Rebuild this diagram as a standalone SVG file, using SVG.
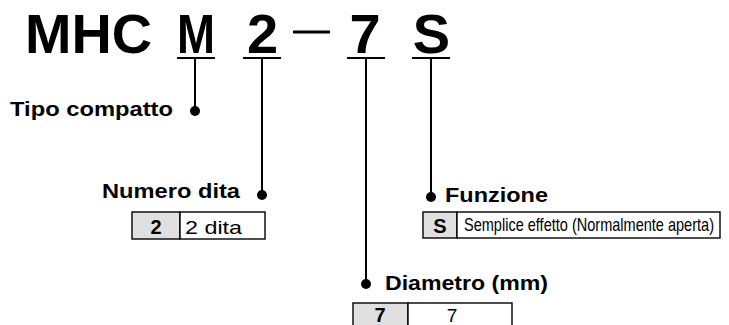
<svg xmlns="http://www.w3.org/2000/svg" width="729" height="325" viewBox="0 0 729 325">
<style>
.t{font-family:"Liberation Sans",Arial,sans-serif;font-weight:bold;font-size:56px;fill:#000;text-anchor:middle}
.lbl{font-family:"Liberation Sans",Arial,sans-serif;font-weight:bold;font-size:21px;fill:#000}
.ln{stroke:#000;stroke-width:2;fill:none}
.cell{stroke:#000;stroke-width:1.4;fill:#fff}
.key{stroke:#000;stroke-width:1.4;fill:#e0e0e0}
.kt{font-family:"Liberation Sans",Arial,sans-serif;font-weight:bold;font-size:20px;fill:#000;text-anchor:middle}
.vt{font-family:"Liberation Sans",Arial,sans-serif;font-size:19px;fill:#000}
</style>
<g id="title">
<text class="t" x="88.5" y="53" textLength="127" lengthAdjust="spacingAndGlyphs">MHC</text>
<text class="t" x="196" y="53" textLength="38" lengthAdjust="spacingAndGlyphs">M</text>
<text class="t" x="262.5" y="53">2</text>
<line x1="293" y1="32" x2="330" y2="32" stroke="#000" stroke-width="3"/>
<text class="t" x="365" y="53">7</text>
<text class="t" x="431.5" y="53">S</text>
</g>
<g id="connectors">
<line class="ln" x1="177" y1="58" x2="215" y2="58"/>
<line class="ln" x1="195" y1="58" x2="195" y2="111"/>
<circle cx="195" cy="111" r="5" fill="#000"/>
<line class="ln" x1="243" y1="58" x2="281" y2="58"/>
<line class="ln" x1="262" y1="58" x2="262" y2="195"/>
<circle cx="262" cy="195" r="5" fill="#000"/>
<line class="ln" x1="347" y1="58" x2="385" y2="58"/>
<line class="ln" x1="366" y1="58" x2="366" y2="284"/>
<circle cx="366" cy="284" r="5" fill="#000"/>
<line class="ln" x1="412" y1="58" x2="450" y2="58"/>
<line class="ln" x1="431" y1="58" x2="431" y2="197"/>
<circle cx="431" cy="197" r="5" fill="#000"/>
</g>
<g id="tipo">
<text class="lbl" x="10" y="116" textLength="163" lengthAdjust="spacingAndGlyphs">Tipo compatto</text>
</g>
<g id="numero">
<text class="lbl" x="102" y="198" textLength="138" lengthAdjust="spacingAndGlyphs">Numero dita</text>
<rect class="key" x="132" y="212" width="48" height="27"/>
<rect class="cell" x="180" y="212" width="85" height="27"/>
<text class="kt" x="156" y="234">2</text>
<text class="vt" x="185" y="234" textLength="57" lengthAdjust="spacingAndGlyphs">2 dita</text>
</g>
<g id="funzione">
<text class="lbl" x="445" y="202" textLength="103" lengthAdjust="spacingAndGlyphs">Funzione</text>
<rect class="key" x="423" y="212" width="34" height="26"/>
<rect class="cell" x="457" y="212" width="263" height="26"/>
<text class="kt" x="440" y="233">S</text>
<text class="vt" x="464" y="231" font-size="15" textLength="250" lengthAdjust="spacingAndGlyphs">Semplice effetto (Normalmente aperta)</text>
</g>
<g id="diametro">
<text class="lbl" x="385" y="290" textLength="163" lengthAdjust="spacingAndGlyphs">Diametro (mm)</text>
<rect class="key" x="353" y="303" width="55" height="30"/>
<rect class="cell" x="408" y="303" width="104" height="30"/>
<text class="kt" x="380" y="322">7</text>
<text class="vt" x="452" y="322" text-anchor="middle">7</text>
</g>
</svg>
